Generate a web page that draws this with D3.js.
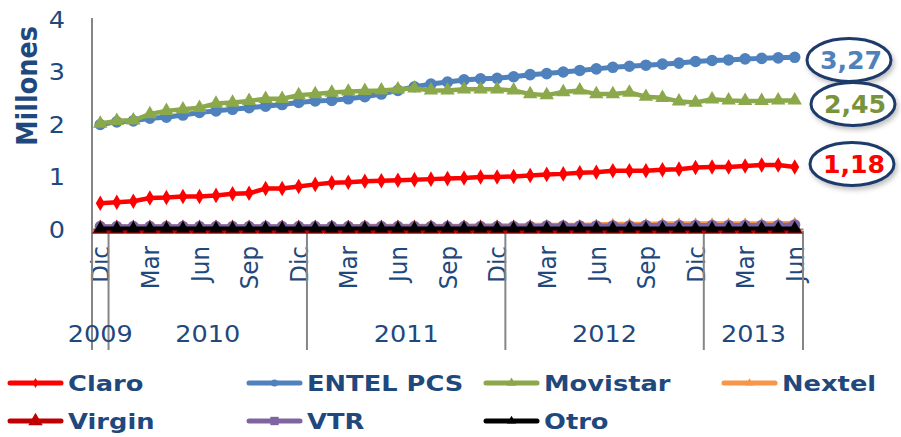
<!DOCTYPE html>
<html><head><meta charset="utf-8">
<script src="https://cdn.jsdelivr.net/npm/d3@7/dist/d3.min.js"></script>
<style>body{margin:0;background:#fff}svg{display:block}</style>
</head><body>
<svg id="chart" width="901" height="437"></svg>
<script>
// ---- data ----
const catMonths = ["Dic","Ene","Feb","Mar","Abr","May","Jun","Jul","Ago","Sep","Oct","Nov",
  "Dic","Ene","Feb","Mar","Abr","May","Jun","Jul","Ago","Sep","Oct","Nov",
  "Dic","Ene","Feb","Mar","Abr","May","Jun","Jul","Ago","Sep","Oct","Nov",
  "Dic","Ene","Feb","Mar","Abr","May","Jun"];
const catYears = ["2009","2010","2010","2010","2010","2010","2010","2010","2010","2010","2010","2010",
  "2010","2011","2011","2011","2011","2011","2011","2011","2011","2011","2011","2011",
  "2011","2012","2012","2012","2012","2012","2012","2012","2012","2012","2012","2012",
  "2012","2013","2013","2013","2013","2013","2013"];
const yearLabels = ["2009","2010","2011","2012","2013"];
const yTicks = [0,1,2,3,4];

const claro = [0.49,0.51,0.53,0.59,0.60,0.62,0.62,0.64,0.67,0.68,0.77,0.77,0.81,0.85,0.88,0.89,0.91,0.92,0.93,0.94,0.95,0.96,0.97,0.99,0.99,1.00,1.02,1.04,1.05,1.07,1.08,1.11,1.11,1.11,1.13,1.14,1.17,1.18,1.18,1.20,1.22,1.22,1.18];
const entel = [1.99,2.04,2.06,2.11,2.13,2.17,2.22,2.25,2.28,2.31,2.34,2.37,2.41,2.44,2.45,2.48,2.52,2.57,2.64,2.71,2.76,2.80,2.84,2.86,2.87,2.90,2.94,2.96,2.99,3.02,3.05,3.08,3.10,3.12,3.14,3.16,3.19,3.21,3.22,3.24,3.25,3.26,3.27];
const movistar = [2.01,2.06,2.07,2.19,2.25,2.28,2.31,2.39,2.41,2.44,2.48,2.48,2.55,2.57,2.60,2.62,2.63,2.64,2.66,2.68,2.64,2.64,2.66,2.66,2.66,2.64,2.57,2.55,2.61,2.64,2.57,2.57,2.60,2.52,2.50,2.43,2.41,2.47,2.45,2.44,2.44,2.45,2.45];
const nextel = [0.05,0.05,0.05,0.05,0.05,0.05,0.05,0.05,0.05,0.05,0.05,0.05,0.05,0.05,0.05,0.05,0.06,0.06,0.06,0.06,0.06,0.06,0.06,0.07,0.07,0.07,0.08,0.08,0.08,0.08,0.09,0.10,0.10,0.10,0.11,0.11,0.11,0.11,0.11,0.11,0.11,0.11,0.12];
const virgin = [0,0,0,0,0,0,0,0,0,0,0,0,0,0,0,0,0,0,0,0,0,0,0,0,0,0,0,0,0,0,0,0,0,0,0,0,0,0,0,0,0,0,0];
const vtr = [0.05,0.05,0.05,0.05,0.05,0.05,0.05,0.05,0.05,0.05,0.05,0.05,0.05,0.05,0.05,0.05,0.05,0.05,0.05,0.05,0.05,0.05,0.05,0.05,0.05,0.05,0.05,0.06,0.06,0.06,0.06,0.06,0.06,0.07,0.07,0.07,0.07,0.07,0.07,0.07,0.07,0.07,0.08];
const otro = [0.01,0.01,0.01,0.01,0.01,0.01,0.01,0.01,0.01,0.01,0.01,0.01,0.01,0.01,0.01,0.01,0.01,0.01,0.01,0.01,0.01,0.01,0.01,0.01,0.01,0.01,0.01,0.01,0.01,0.01,0.01,0.01,0.01,0.01,0.01,0.01,0.01,0.01,0.01,0.01,0.01,0.01,0.01];
const seriesNames = ["Claro","ENTEL PCS","Movistar","Nextel","Virgin","VTR","Otro"];
const seriesValues = [claro, entel, movistar, nextel, virgin, vtr, otro];
const calloutLabels = ["3,27","2,45","1,18"];

// ---- styles ----
const styles = [
  {color:"#FF0000", sym:d3.symbolDiamond, size:70, w:4.5, lsize:30},
  {color:"#4F81BD", sym:d3.symbolCircle, size:105, w:5, lsize:40},
  {color:"#8BA84B", sym:d3.symbolTriangle, size:90, w:4.5, lsize:40},
  {color:"#F79646", sym:d3.symbolTriangle, size:45, w:4, lsize:30},
  {color:"#C00000", sym:d3.symbolTriangle, size:120, w:8, lsize:90},
  {color:"#8064A2", sym:d3.symbolCircle, size:100, w:4.5, lsize:70, lsym:d3.symbolSquare},
  {color:"#000000", sym:d3.symbolTriangle, size:80, w:4, lsize:35}
];
const textColor = "#1F497D";
const SX = 1.11;
const FONT = "'DejaVu Sans', Verdana, sans-serif";

const svg = d3.select("#chart");
const x = d3.scaleBand().domain(d3.range(catMonths.length)).range([92, 803]);
const cx = i => x(i) + x.bandwidth()/2;
const y = d3.scaleLinear().domain([0,4]).range([229, 19]);

// Y axis
const yAxis = svg.append("g").attr("transform","translate(92,0)")
  .call(d3.axisLeft(y).tickValues(yTicks).tickSize(0).tickFormat(d3.format("d")));
yAxis.select(".domain").remove();
yAxis.selectAll("text")
  .attr("x", null).attr("dy","0.36em")
  .attr("transform", `translate(-27,0) scale(${SX},1)`)
  .attr("fill", textColor).style("font-family", FONT).style("font-size","23px")
  .attr("text-anchor","end");
svg.append("line").attr("x1",92).attr("x2",92).attr("y1",y(4)-1).attr("y2",350)
  .attr("stroke","#868686").attr("stroke-width",2);

// Y title
svg.append("text").text("Millones")
  .attr("transform",`translate(27,86) scale(${SX},1) rotate(-90)`)
  .attr("text-anchor","middle").attr("dy","0.36em")
  .attr("fill",textColor).style("font-family",FONT).style("font-size","25.5px").style("font-weight","bold");

// X axis
const xAxis = svg.append("g").attr("transform",`translate(0,${y(0)})`)
  .call(d3.axisBottom(x).tickValues(d3.range(catMonths.length).filter(i=>i%3===0))
    .tickSize(0).tickFormat(i=>catMonths[i]));
xAxis.select(".domain").attr("stroke","#868686").attr("stroke-width",2);
xAxis.selectAll("text")
  .attr("y",null).attr("x",null).attr("dy","0.36em")
  .attr("transform",`translate(0,17) scale(${SX},1) rotate(-90)`)
  .attr("text-anchor","end")
  .attr("fill",textColor).style("font-family",FONT).style("font-size","23px");

// Year groups
const groups = yearLabels.map(yr => {
  const idx = catYears.map((c,i)=>c===yr?i:-1).filter(i=>i>=0);
  return {yr, start:x(idx[0]), end:x(idx[idx.length-1])+x.bandwidth()};
});
const bounds = Array.from(new Set(groups.flatMap(g=>[g.start,g.end])));
svg.append("g").selectAll("line").data(bounds).join("line")
  .attr("x1",d=>d).attr("x2",d=>d).attr("y1",y(0)+2).attr("y2",350)
  .attr("stroke","#868686").attr("stroke-width",2);
svg.append("g").selectAll("text").data(groups).join("text")
  .attr("transform",d=>`translate(${(d.start+d.end)/2},342) scale(${SX},1)`)
  .attr("text-anchor","middle").text(d=>d.yr)
  .attr("fill",textColor).style("font-family",FONT).style("font-size","23px");

// Series
const line = d3.line().x((d,i)=>cx(i)).y(d=>y(d));
const gS = svg.append("g");
seriesValues.forEach((vals, k) => {
  const st = styles[k];
  const g = gS.append("g");
  g.append("path").datum(vals).attr("d",line).attr("fill","none")
    .attr("stroke",st.color).attr("stroke-width",st.w)
    .attr("stroke-linejoin","round").attr("stroke-linecap","round");
  g.selectAll("path.m").data(vals).join("path").attr("class","m")
    .attr("d",d3.symbol().type(st.sym).size(st.size))
    .attr("transform",(d,i)=>`translate(${cx(i)},${y(d)})`)
    .attr("fill",st.color);
});

// Callouts
const defs = svg.append("defs");
const f = defs.append("filter").attr("id","sh").attr("x","-20%").attr("y","-20%").attr("width","150%").attr("height","160%");
f.append("feDropShadow").attr("dx",2).attr("dy",3).attr("stdDeviation",2.5)
  .attr("flood-color","#000").attr("flood-opacity",0.25);
const calloutColors = ["#4F81BD","#77933C","#FF0000"];
const calloutCx = [849, 853, 852];
const calloutCy = [60, 104, 164];
calloutLabels.forEach((lab,k)=>{
  svg.append("ellipse").attr("cx",calloutCx[k]).attr("cy",calloutCy[k]).attr("rx",42).attr("ry",21.5)
    .attr("fill","#fff").attr("stroke","#1F3B6B").attr("stroke-width",3).attr("filter","url(#sh)");
  svg.append("text").text(lab)
    .attr("transform",`translate(${calloutCx[k]+2},${calloutCy[k]}) scale(1.03,1)`)
    .attr("text-anchor","middle").attr("dy","0.36em")
    .attr("fill",calloutColors[k]).style("font-family",FONT).style("font-size","24.5px").style("font-weight","bold");
});

// Legend
const legPos = [[8,383],[247,383],[484,383],[722,383],[8,421],[247,421],[484,421]];
seriesNames.forEach((name,k)=>{
  const st = styles[k];
  const [lx,ly] = legPos[k];
  const g = svg.append("g");
  g.append("line").attr("x1",lx+2).attr("x2",lx+53).attr("y1",ly).attr("y2",ly)
    .attr("stroke",st.color).attr("stroke-width",5).attr("stroke-linecap","round");
  g.append("path").attr("d",d3.symbol().type(st.lsym||st.sym).size(st.lsize))
    .attr("transform",`translate(${lx+27.5},${ly})`).attr("fill",st.color);
  g.append("text").text(name)
    .attr("transform",`translate(${lx+60},${ly}) scale(1.17,1)`)
    .attr("dy","0.36em")
    .attr("fill",textColor).style("font-family",FONT).style("font-size","22px").style("font-weight","bold");
});
</script>
</body></html>
